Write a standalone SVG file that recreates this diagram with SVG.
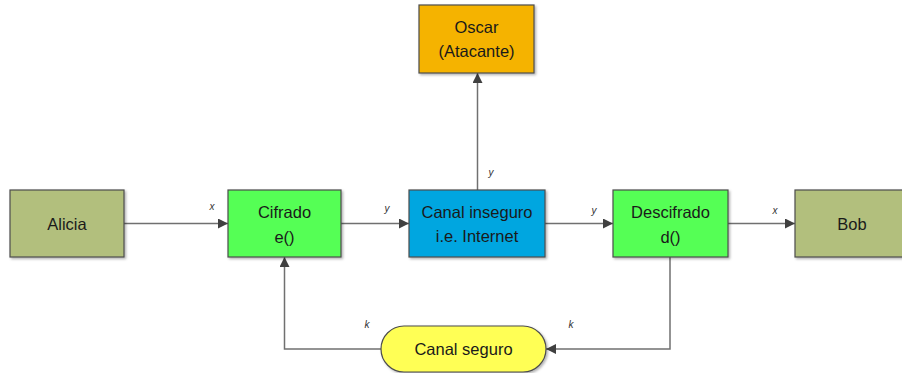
<svg xmlns="http://www.w3.org/2000/svg" width="902" height="373" viewBox="0 0 902 373">
<defs>
<marker id="arr" viewBox="0 0 10 10" refX="10" refY="5" markerWidth="10" markerHeight="10" markerUnits="userSpaceOnUse" orient="auto">
<path d="M0,0 L10,5 L0,10 Z" fill="#404040"/>
</marker>
<filter id="sh" x="-10%" y="-10%" width="130%" height="130%">
<feDropShadow dx="1.5" dy="1.5" stdDeviation="1" flood-color="#000" flood-opacity="0.3"/>
</filter>
</defs>
<style>
.box{stroke:#4d4d4d;stroke-width:1.2;filter:url(#sh)}
.t{font-family:"Liberation Sans","Open Sans",sans-serif;font-size:16.5px;fill:#1a1a1a;text-anchor:middle;dominant-baseline:central}
.l{font-family:"Liberation Sans",sans-serif;font-size:10px;font-style:italic;fill:#333;text-anchor:middle;dominant-baseline:central}
.c{fill:none;stroke:#707070;stroke-width:1.5}
</style>
<rect width="902" height="373" fill="#fff"/>
<g id="connectors">
<path class="c" d="M124,223.5 H228" marker-end="url(#arr)"/>
<path class="c" d="M341,223.5 H409" marker-end="url(#arr)"/>
<path class="c" d="M545,223.5 H613" marker-end="url(#arr)"/>
<path class="c" d="M728,223.5 H795" marker-end="url(#arr)"/>
<path class="c" d="M477.5,190 V73" marker-end="url(#arr)"/>
<path class="c" d="M670,257 V349 H546" marker-end="url(#arr)"/>
<path class="c" d="M381,349 H284.5 V257" marker-end="url(#arr)"/>
<text class="l" x="212" y="206">x</text>
<text class="l" x="387" y="208">y</text>
<text class="l" x="491" y="172">y</text>
<text class="l" x="594" y="210">y</text>
<text class="l" x="775" y="210">x</text>
<text class="l" x="367" y="324">k</text>
<text class="l" x="571" y="324">k</text>
</g>
<g id="alicia">
<rect class="box" x="10" y="190" width="114" height="67" fill="#b2bf7d"/>
<text class="t" x="67" y="223.5">Alicia</text>
</g>
<g id="cifrado">
<rect class="box" x="228" y="190" width="113" height="67" fill="#55ff55"/>
<text class="t" x="284.5" y="212">Cifrado</text>
<text class="t" x="284.5" y="237">e()</text>
</g>
<g id="canal-inseguro">
<rect class="box" x="409" y="190" width="136" height="67" fill="#00a6e0"/>
<text class="t" x="477" y="212">Canal inseguro</text>
<text class="t" x="477" y="236">i.e. Internet</text>
</g>
<g id="oscar">
<rect class="box" x="419" y="5" width="115" height="68" fill="#f5b300"/>
<text class="t" x="476.5" y="27">Oscar</text>
<text class="t" x="476.5" y="51">(Atacante)</text>
</g>
<g id="descifrado">
<rect class="box" x="613" y="190" width="115" height="67" fill="#55ff55"/>
<text class="t" x="670.5" y="212">Descifrado</text>
<text class="t" x="670.5" y="237">d()</text>
</g>
<g id="bob">
<rect class="box" x="795" y="190" width="115" height="67" fill="#b2bf7d"/>
<text class="t" x="852" y="223.5">Bob</text>
</g>
<g id="canal-seguro">
<rect class="box" x="381" y="326" width="165" height="46" rx="23" ry="23" fill="#ffff55"/>
<text class="t" x="463.5" y="349">Canal seguro</text>
</g>
</svg>
